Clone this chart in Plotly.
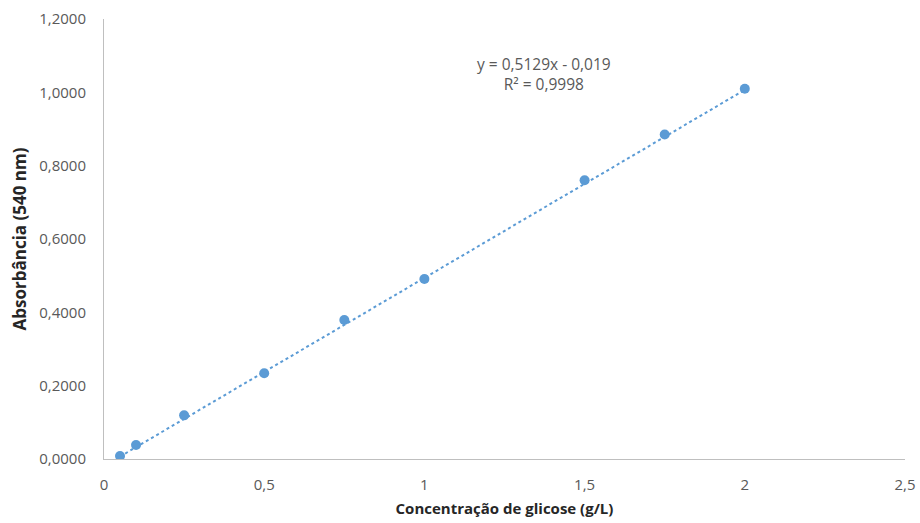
import plotly.graph_objects as go

concentracao = [0.05, 0.1, 0.25, 0.5, 0.75, 1.0, 1.5, 1.75, 2.0]
absorbancia = [0.008, 0.038, 0.119, 0.234, 0.379, 0.491, 0.760, 0.885, 1.010]
slope = 0.5129
intercept = -0.019
x_ticks = [0, 0.5, 1, 1.5, 2, 2.5]
x_tick_labels = ["0", "0,5", "1", "1,5", "2", "2,5"]
y_ticks = [0, 0.2, 0.4, 0.6, 0.8, 1.0, 1.2]
y_tick_labels = ["0,0000", "0,2000", "0,4000", "0,6000", "0,8000", "1,0000", "1,2000"]

trend_x = [min(concentracao), max(concentracao)]
trend_y = [slope * v + intercept for v in trend_x]

FONT = "Open Sans"
blue = "#5B9BD5"
grey = "#595959"

fig = go.Figure()
fig.add_trace(go.Scatter(x=trend_x, y=trend_y, mode="lines",
                         line=dict(color=blue, width=2, dash="dot"),
                         hoverinfo="skip", showlegend=False))
fig.add_trace(go.Scatter(x=concentracao, y=absorbancia, mode="markers",
                         marker=dict(color=blue, size=10),
                         showlegend=False))

fig.add_annotation(x=1.373, y=1.05, xref="x", yref="y",
                   text="y = 0,5129x - 0,019<br>R² = 0,9998",
                   showarrow=False, align="center",
                   font=dict(family=FONT, size=15.5, color=grey))

fig.update_layout(
    width=920, height=523,
    margin=dict(l=104, r=15, t=19, b=64, autoexpand=False),
    paper_bgcolor="white", plot_bgcolor="white",
    font=dict(family=FONT, color=grey),
    xaxis=dict(range=[0, 2.5], tickvals=x_ticks, ticktext=x_tick_labels,
               showgrid=False, zeroline=False, showline=True,
               linecolor="#BFBFBF", linewidth=1, ticks="",
               ticklabelstandoff=12, automargin=False,
               tickfont=dict(family=FONT, size=15, color=grey),
               title=dict(text="<b>Concentração de glicose (g/L)</b>",
                          font=dict(family=FONT, size=15, color="#262626"),
                          standoff=10)),
    yaxis=dict(range=[0, 1.2], tickvals=y_ticks, ticktext=y_tick_labels,
               showgrid=False, zeroline=False, showline=True,
               linecolor="#BFBFBF", linewidth=1, ticks="",
               ticklabelstandoff=14, automargin=False,
               tickfont=dict(family=FONT, size=15, color=grey),
               title=dict(text="<b>Absorbância (540 nm)</b>",
                          font=dict(family=FONT, size=17, color="#262626"),
                          standoff=8)),
)

fig.write_html("out.html", config={"displayModeBar": False},
               post_script="document.body.style.margin='0';")
